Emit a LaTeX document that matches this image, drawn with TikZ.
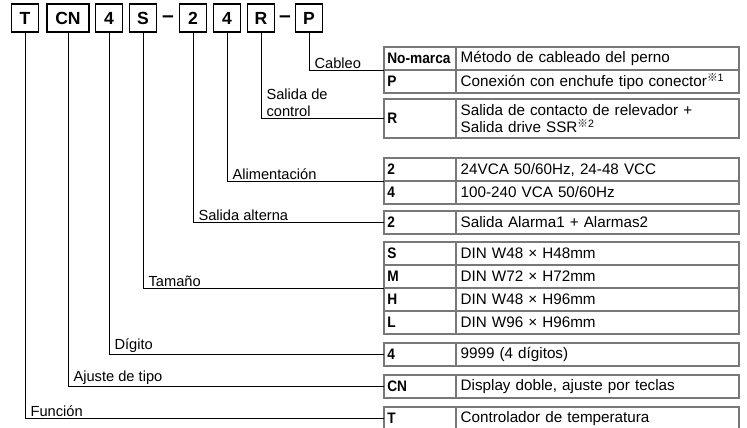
\documentclass[tikz,border=0pt]{standalone}
\usepackage{fontspec}
\setmainfont{Liberation Sans}
\newfontfamily\keyfont{Liberation Sans}[FakeStretch=0.9]
\newfontfamily\refmark{Noto Sans CJK JP}
\usetikzlibrary{positioning}
\definecolor{tabgray}{RGB}{120,120,120}
\newcommand{\nota}[1]{\textsuperscript{{\refmark ※}#1}}

\begin{document}
\begin{tikzpicture}[x=0.03cm, y=-0.03cm, font=\fontsize{13}{15}\selectfont,
    codebox/.style={draw, line width=1.1pt, minimum width=0.8cm, minimum height=0.84cm, inner sep=0pt, font=\fontsize{15}{15}\selectfont\bfseries},
    dashmark/.style={inner sep=0pt, font=\fontsize{18}{18}\selectfont\bfseries},
    keycell/.style={draw=tabgray, line width=1pt, outer sep=0pt, text width=1.96cm, inner xsep=0.1cm, inner ysep=0pt, minimum height=0.69cm, align=left, font=\fontsize{13}{15}\selectfont\keyfont\bfseries},
    desccell/.style={keycell, text width=8.21cm, inner xsep=0.14cm, font=\fontsize{13}{14}\selectfont},
    lbl/.style={pos=0.5, anchor=south west, inner sep=1pt, xshift=0.12cm, align=left, font=\fontsize{12.5}{14.5}\selectfont},
    conn/.style={draw, line width=0.7pt}]
    \useasboundingbox (0,0) rectangle (747,428);
    \clip (0,0) rectangle (747,428);

    \node[codebox] (bT) at (25,18) {T};
    \node[codebox, minimum width=1.26cm] (bCN) at (68,18) {CN};
    \node[codebox] (bDig) at (109,18) {4};
    \node[codebox] (bS) at (143,18) {S};
    \node[dashmark] (dash1) at (168,19) {--};
    \node[codebox] (bAlt) at (193,18) {2};
    \node[codebox] (bAli) at (227,18) {4};
    \node[codebox] (bR) at (261,18) {R};
    \node[dashmark] (dash2) at (285,19) {--};
    \node[codebox] (bP) at (309,18) {P};

    \node[keycell, anchor=north west] (kNM) at (384,47) {\mbox{No-marca}};
    \node[desccell, right=0pt of kNM] (dNM) {Método de cableado del perno};
    \node[keycell, below=0pt of kNM] (kP) {P};
    \node[desccell, right=0pt of kP] (dP) {Conexión con enchufe tipo conector\nota{1}};

    \node[keycell, anchor=north west, minimum height=1.17cm] (kR) at (384,99) {R};
    \node[desccell, right=0pt of kR, minimum height=1.17cm] (dR) {Salida de contacto de relevador +\\Salida drive SSR\nota{2}};

    \node[keycell, anchor=north west] (kA2) at (384,158) {2};
    \node[desccell, right=0pt of kA2] (dA2) {24VCA 50/60Hz, 24-48 VCC};
    \node[keycell, below=0pt of kA2] (kA4) {4};
    \node[desccell, right=0pt of kA4] (dA4) {100-240 VCA 50/60Hz};

    \node[keycell, anchor=north west] (kAl) at (384,211) {2};
    \node[desccell, right=0pt of kAl] (dAl) {Salida Alarma1 + Alarmas2};

    \node[keycell, anchor=north west] (kS) at (384,242) {S};
    \node[desccell, right=0pt of kS] (dS) {DIN W48 × H48mm};
    \node[keycell, below=0pt of kS] (kM) {M};
    \node[desccell, right=0pt of kM] (dM) {DIN W72 × H72mm};
    \node[keycell, below=0pt of kM] (kH) {H};
    \node[desccell, right=0pt of kH] (dH) {DIN W48 × H96mm};
    \node[keycell, below=0pt of kH] (kL) {L};
    \node[desccell, right=0pt of kL] (dL) {DIN W96 × H96mm};

    \node[keycell, anchor=north west] (kD) at (384,343) {4};
    \node[desccell, right=0pt of kD] (dD) {9999 (4 dígitos)};

    \node[keycell, anchor=north west] (kCN) at (384,375) {CN};
    \node[desccell, right=0pt of kCN] (dCN) {Display doble, ajuste por teclas};

    \node[keycell, anchor=north west] (kT) at (384,407) {T};
    \node[desccell, right=0pt of kT] (dT) {Controlador de temperatura};

    \draw[conn] (bP.south) |- (kNM.south west) node[lbl] {Cableo};
    \draw[conn] (bR.south) |- (kR.west) node[lbl] {Salida de\\control};
    \draw[conn] (bAli.south) |- (kA2.south west) node[lbl] {Alimentación};
    \draw[conn] (bAlt.south) |- (kAl.west) node[lbl] {Salida alterna};
    \draw[conn] (bS.south) |- (kM.south west) node[lbl] {Tamaño};
    \draw[conn] (bDig.south) |- (kD.west) node[lbl] {Dígito};
    \draw[conn] (bCN.south) |- (kCN.west) node[lbl] {Ajuste de tipo};
    \draw[conn] (bT.south) |- (kT.west) node[lbl] {Función};

\end{tikzpicture}
\end{document}
